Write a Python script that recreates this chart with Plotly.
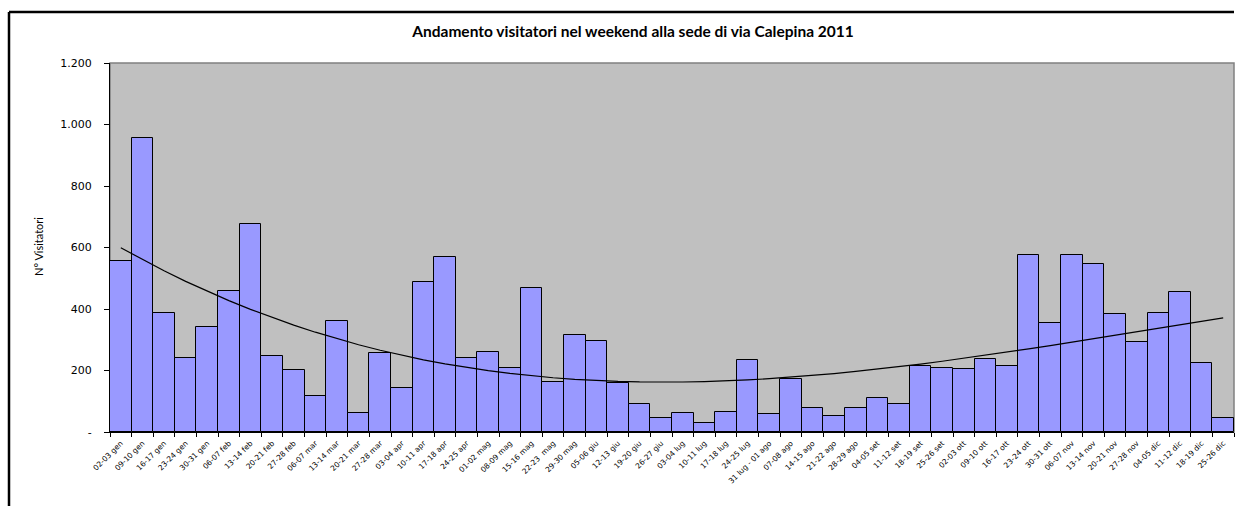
import numpy as np
import plotly.graph_objects as go

# Weekend labels (2011) and visitor counts
weekends = [
    "02-03 gen", "09-10 gen", "16-17 gen", "23-24 gen", "30-31 gen",
    "06-07 feb", "13-14 feb", "20-21 feb", "27-28 feb",
    "06-07 mar", "13-14 mar", "20-21 mar", "27-28 mar",
    "03-04 apr", "10-11 apr", "17-18 apr", "24-25 apr",
    "01-02 mag", "08-09 mag", "15-16 mag", "22-23  mag", "29-30 mag",
    "05-06 giu", "12-13 giu", "19-20 giu", "26-27 giu",
    "03-04 lug", "10-11 lug", "17-18 lug", "24-25 lug", "31 lug - 01 ago",
    "07-08 ago", "14-15 ago", "21-22 ago", "28-29 ago",
    "04-05 set", "11-12 set", "18-19 set", "25-26 set",
    "02-03 ott", "09-10 ott", "16-17 ott", "23-24 ott", "30-31 ott",
    "06-07 nov", "13-14 nov", "20-21 nov", "27-28 nov",
    "04-05 dic", "11-12 dic", "18-19 dic", "25-26 dic",
]
visitatori = [
    555, 955, 386, 242, 340,
    460, 677, 246, 202,
    118, 361, 61, 258,
    144, 489, 570, 242,
    259, 209, 467, 164, 315,
    296, 160, 90, 44,
    61, 28, 65, 234, 57,
    172, 79, 53, 79,
    112, 90, 214, 209,
    205, 237, 214, 575, 353,
    575, 546, 383, 292,
    386, 455, 225, 44,
]

y_tick_vals = [0, 200, 400, 600, 800, 1000, 1200]
y_tick_text = ["-", "200", "400", "600", "800", "1.000", "1.200"]

# Polynomial trend (order 3) over the weekly series
idx = np.arange(1, len(visitatori) + 1)
coef = np.polyfit(idx, visitatori, 3)
trend = np.polyval(coef, idx)

W, H = 1239, 506
L, R, T, B = 110, 5, 63, 74
pw, ph = W - L - R, H - T - B


def px_x(p):
    return (p - L) / pw


def px_y(p):
    return (H - B - p) / ph


fig = go.Figure()
fig.add_trace(go.Bar(
    x=weekends, y=visitatori,
    marker=dict(color="#9999FF", line=dict(color="#000000", width=1)),
    showlegend=False,
))
fig.add_trace(go.Scatter(
    x=weekends, y=trend, mode="lines",
    line=dict(color="#000000", width=1.2),
    showlegend=False,
))

frame = dict(color="#000000", width=2.5)

fig.update_layout(
    width=W, height=H,
    margin=dict(l=L, r=R, t=T, b=B),
    paper_bgcolor="#FFFFFF",
    plot_bgcolor="#C0C0C0",
    bargap=0,
    title=dict(
        text="<b>Andamento visitatori nel weekend alla sede di via Calepina 2011</b>",
        font=dict(family="Lato", size=15.5, color="#000000"),
        x=633 / W, xanchor="center", xref="container",
        y=1 - 32 / H, yanchor="middle", yref="container",
    ),
    xaxis=dict(
        type="category",
        tickangle=-45,
        tickfont=dict(family="DejaVu Sans", size=7.5, color="#000000"),
        showline=True, linecolor="#000000", linewidth=1,
        ticks="outside", tickson="boundaries", ticklen=4, tickcolor="#000000",
        ticklabelstandoff=3,
        showgrid=False, zeroline=False,
        range=[-0.5, len(weekends) - 0.5],
    ),
    yaxis=dict(
        range=[0, 1200],
        tickvals=y_tick_vals, ticktext=y_tick_text,
        tickfont=dict(family="DejaVu Sans", size=11, color="#000000"),
        showline=True, linecolor="#000000", linewidth=1,
        ticks="outside", ticklen=5, tickcolor="#000000",
        ticklabelstandoff=10,
        showgrid=False, zeroline=False,
    ),
    shapes=[
        # plot-area frame (top and right edges in grey)
        dict(type="rect", xref="paper", yref="paper", x0=0, x1=1, y0=0, y1=1,
             line=dict(color="#808080", width=1.5), layer="below"),
        # outer chart frame: top and left edges
        dict(type="line", xref="paper", yref="paper",
             x0=px_x(9), x1=1.0, y0=px_y(12), y1=px_y(12), line=frame),
        dict(type="line", xref="paper", yref="paper",
             x0=px_x(9), x1=px_x(9), y0=px_y(12), y1=px_y(510), line=frame),
    ],
    annotations=[
        dict(text="N° Visitatori", xref="paper", yref="paper",
             x=px_x(38), y=px_y(247), textangle=-90, showarrow=False,
             xanchor="center", yanchor="middle",
             font=dict(family="Lato", size=11, color="#000000")),
    ],
)

fig.write_html("out.html")
